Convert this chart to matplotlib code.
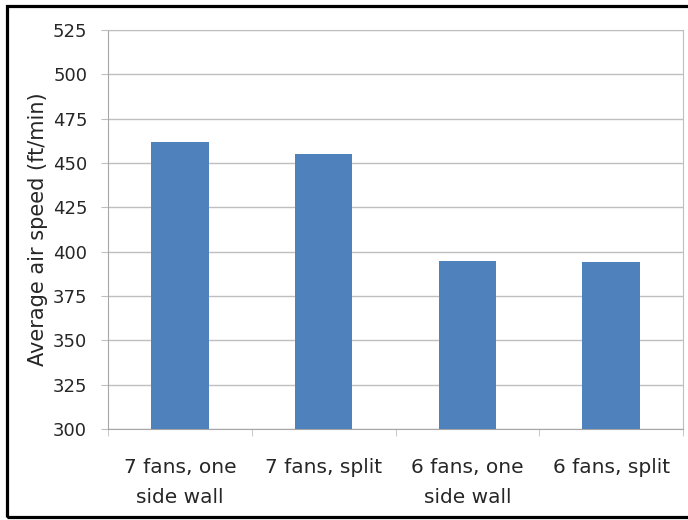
import matplotlib.pyplot as plt
from matplotlib.patches import Rectangle
import numpy as np

categories = ["7 fans, one\nside wall", "7 fans, split", "6 fans, one\nside wall", "6 fans, split"]
air_speed = [462, 455, 394.7, 394.3]
yticks = [300, 325, 350, 375, 400, 425, 450, 475, 500, 525]

plt.rcParams['font.family'] = ['DejaVu Sans']

fig = plt.figure(figsize=(6.88, 5.2), dpi=100)
ax = fig.add_axes([108/688, 1 - 429/520, (683-108)/688, (429-30)/520])

x = np.arange(len(categories))
ax.bar(x, air_speed, width=0.4, color='#4F81BD', zorder=3)

ax.set_xlim(-0.5, len(categories) - 0.5)
ax.set_ylim(300, 525)
ax.set_yticks(yticks)
ax.set_yticklabels([str(t) for t in yticks], fontsize=13, color='#262626')
ax.yaxis.grid(True, color='#BFBFBF', linewidth=1, zorder=0)

ax.set_xticks(x)
ax.set_xticklabels(categories, fontsize=14.5, color='#262626', linespacing=1.7)
ax.set_xticks(np.arange(-0.5, len(categories)), minor=True)
ax.tick_params(axis='x', which='major', length=0, pad=21)
ax.tick_params(axis='x', which='minor', length=5, color='#BFBFBF')
ax.tick_params(axis='y', length=5, color='#BFBFBF', pad=10)

for side in ['top', 'right']:
    ax.spines[side].set_color('#BFBFBF')
for side in ['left', 'bottom']:
    ax.spines[side].set_color('#A6A6A6')

ax.set_ylabel('Average air speed (ft/min)', fontsize=15, color='#262626')
ax.yaxis.set_label_coords(-0.105, 0.5)

# black frame around the picture (no right edge)
fig.patches.append(Rectangle((7/688, 3/520), 1.0, 1 - 8.5/520, transform=fig.transFigure,
                             fill=False, edgecolor='black', linewidth=2.3))

fig.savefig('out.png', dpi=100)
